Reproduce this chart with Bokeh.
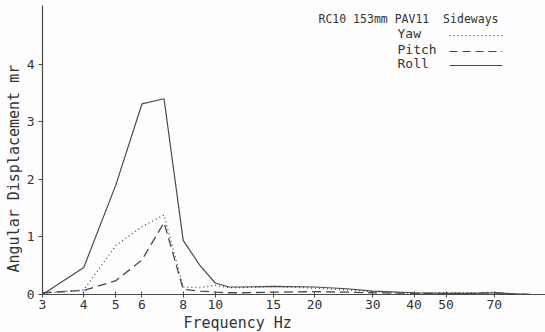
from bokeh.plotting import figure
from bokeh.models import FixedTicker, PrintfTickFormatter, Label, Arrow, Title
from bokeh.embed import file_html
from bokeh.resources import INLINE

freq = [3, 4, 5, 6, 7, 8, 9, 10, 11, 12, 15, 20, 25, 30, 40, 50, 60, 70, 80, 90]
roll = [0.0, 0.47, 1.9, 3.31, 3.4, 0.94, 0.5, 0.2, 0.13, 0.13, 0.14, 0.13, 0.1, 0.06, 0.03, 0.02, 0.02, 0.03, 0.01, 0.0]
yaw = [0.02, 0.08, 0.85, 1.18, 1.38, 0.13, 0.12, 0.16, 0.12, 0.12, 0.14, 0.11, 0.08, 0.05, 0.02, 0.03, 0.03, 0.04, 0.01, 0.0]
pitch = [0.03, 0.07, 0.24, 0.6, 1.25, 0.09, 0.06, 0.04, 0.03, 0.03, 0.04, 0.05, 0.04, 0.03, 0.02, 0.02, 0.02, 0.03, 0.01, 0.0]

x_ticks = [3, 4, 5, 6, 8, 10, 15, 20, 30, 40, 50, 70]
y_ticks = [0, 1, 2, 3, 4]

title_text = "RC10 153mm PAV11\u00a0 Sideways"
legend_names = ["Yaw", "Pitch", "Roll"]
x_label = "Frequency Hz"
y_label = "Angular Displacement mr"

INK = "#4a4a4a"
TXT = "#333333"
FONT = "DejaVu Sans Mono"

p = figure(width=545, height=332, x_axis_type="log", x_range=(3, 100), y_range=(0, 5.02),
           output_backend="svg", toolbar_location=None,
           min_border_left=42, min_border_right=0, min_border_top=5, min_border_bottom=38)
p.outline_line_color = None
p.background_fill_color = "#fdfdfd"
p.border_fill_color = "#fdfdfd"
p.xgrid.visible = False
p.ygrid.visible = False

p.line(freq, yaw, line_color=INK, line_width=1.3, line_dash="1 3")
p.line(freq, pitch, line_color=INK, line_width=1.3, line_dash="9 5")
p.line(freq, roll, line_color=INK, line_width=1.2)

p.xaxis.ticker = FixedTicker(ticks=x_ticks, minor_ticks=[])
p.xaxis.formatter = PrintfTickFormatter(format="%d")
p.yaxis.ticker = FixedTicker(ticks=y_ticks, minor_ticks=[])
for ax in (p.xaxis[0], p.yaxis[0]):
    ax.axis_line_color = INK
    ax.axis_line_width = 1.2
    ax.major_tick_line_color = INK
    ax.minor_tick_line_color = None
    ax.major_label_text_font = FONT
    ax.major_label_text_font_size = "13px"
    ax.major_label_text_color = TXT
p.xaxis.major_tick_in = 3
p.xaxis.major_tick_out = 3
p.xaxis.major_label_standoff = 2
p.yaxis.major_tick_in = 0
p.yaxis.major_tick_out = 4
p.yaxis.major_label_standoff = 4

p.add_layout(Title(text=x_label, align="left", offset=141, standoff=0,
                   text_font=FONT, text_font_size="15px", text_font_style="normal",
                   text_color=TXT), "below")
p.add_layout(Title(text=y_label, align="left", offset=22, standoff=0, vertical_align="middle",
                   text_font=FONT, text_font_size="15px", text_font_style="normal",
                   text_color=TXT), "left")

p.add_layout(Label(x=318, y=18, x_units="canvas", y_units="canvas", text=title_text,
                   text_font=FONT, text_font_size="11.5px", text_color=TXT,
                   text_align="left", text_baseline="middle"))

leg_y = [33, 49, 63]
dashes = ["1 3", "8 5", "solid"]
for name, ly, dash in zip(legend_names, leg_y, dashes):
    p.add_layout(Label(x=397, y=ly, x_units="canvas", y_units="canvas", text=name,
                       text_font=FONT, text_font_size="13px", text_color=TXT,
                       text_align="left", text_baseline="middle"))
    p.add_layout(Arrow(x_start=449, y_start=ly + 2, x_end=502, y_end=ly + 2,
                       start_units="canvas", end_units="canvas", end=None,
                       line_color=INK, line_width=1.2, line_dash=dash))

open("out.html", "w").write(file_html(p, INLINE))
